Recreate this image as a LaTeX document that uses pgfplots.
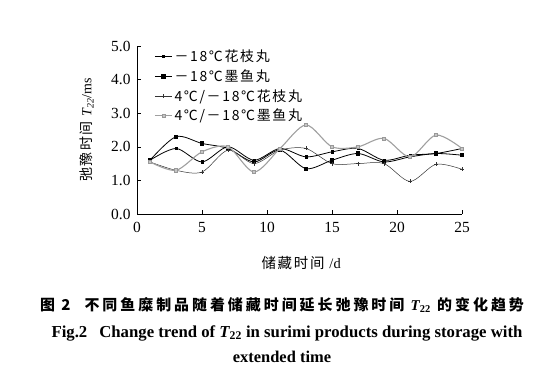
\documentclass[border=0pt]{standalone}
\usepackage{fontspec}
\setmainfont{Liberation Serif}
\newfontfamily\cjk{Noto Sans CJK SC}[LetterSpace=12]
\newfontfamily\cjkcap{Noto Sans CJK SC}[LetterSpace=20]
\usepackage{pgfplots}
\pgfplotsset{compat=1.18}
\begin{document}
\begin{tikzpicture}
\path[use as bounding box] (0bp,0bp) rectangle (556bp,384bp);
\begin{axis}[
  at={(137bp,170bp)}, anchor=origin,
  scale only axis, width=325bp, height=168bp,
  xmin=0, xmax=25, ymin=0, ymax=5,
  axis x line*=bottom, axis y line*=left,
  axis line style={-, line width=0.7pt},
  tick align=inside, major tick length=4bp,
  tick style={black, line width=0.6pt},
  xtick={0,5,...,25}, ytick={0,1,...,5},
  /pgf/number format/assume math mode=true,
  ticklabel style={font=\fontsize{15.5}{16}\selectfont},
  xticklabel style={yshift=-5bp},
  yticklabel style={xshift=-3bp, /pgf/number format/fixed, /pgf/number format/fixed zerofill, /pgf/number format/precision=1},
  xlabel={\cjk 储藏时间 \rmfamily/d},
  xlabel style={font=\fontsize{14.5}{16}\selectfont, at={(axis description cs:0.505,-0.29)}, anchor=center},
  ylabel={\cjk 弛豫时间 \rmfamily{\itshape T}\textsubscript{\itshape 22}/ms},
  ylabel style={font=\fontsize{14}{15}\selectfont, at={(axis description cs:-0.155,0.5)}, anchor=center},
  legend style={at={(0.05,0.995)}, anchor=north west, draw=none, fill=none,
    font=\fontsize{14}{15}\selectfont\cjk, row sep=2.5pt, inner sep=1pt},
  legend cell align=left,
  every axis plot/.append style={smooth},
]
\addplot[black, line width=0.8pt, mark=square*, mark size=1.1pt] coordinates {
(1,1.6) (3,1.95) (5,1.55) (7,2.0) (9,1.6) (11,1.95) (13,1.7) (15,1.85) (17,1.95) (19,1.6) (21,1.75) (23,1.8) (25,1.95)};
\addlegendentry{－18℃花枝丸}
\addplot[black, line width=0.8pt, mark=square*, mark size=1.7pt] coordinates {
(1,1.6) (3,2.3) (5,2.1) (7,1.95) (9,1.55) (11,1.9) (13,1.35) (15,1.6) (17,1.8) (19,1.55) (21,1.7) (23,1.8) (25,1.75)};
\addlegendentry{－18℃墨鱼丸}
\addplot[black!80, line width=0.5pt, mark=+, mark size=2pt, mark options={line width=0.8pt}] coordinates {
(1,1.55) (3,1.3) (5,1.25) (7,1.9) (9,1.5) (11,1.9) (13,1.95) (15,1.5) (17,1.5) (19,1.5) (21,0.97) (23,1.48) (25,1.33)};
\addlegendentry{4℃/－18℃花枝丸}
\addplot[gray!75, line width=1.1pt, mark=square*, mark size=1.6pt, mark options={fill=gray!45, draw=gray!80, line width=0.5pt}] coordinates {
(1,1.55) (3,1.3) (5,1.85) (7,2.0) (9,1.25) (11,1.95) (13,2.65) (15,2.0) (17,2.0) (19,2.25) (21,1.7) (23,2.35) (25,1.95)};
\addlegendentry{4℃/－18℃墨鱼丸}
\end{axis}
\node[font=\fontsize{15}{17}\selectfont\cjkcap\bfseries] at (282bp,79bp) {图 2\hspace{14bp}不同鱼糜制品随着储藏时间延长弛豫时间 \rmfamily{\itshape T}\textsubscript{22}\cjkcap{} 的变化趋势};
\node[font=\fontsize{16.8}{18}\selectfont\bfseries] at (287bp,51bp) {Fig.2\hspace{12bp}Change trend of {\itshape T}\textsubscript{22} in surimi products during storage with};
\node[font=\fontsize{16.5}{18}\selectfont\bfseries] at (282bp,27bp) {extended time};
\end{tikzpicture}
\end{document}
